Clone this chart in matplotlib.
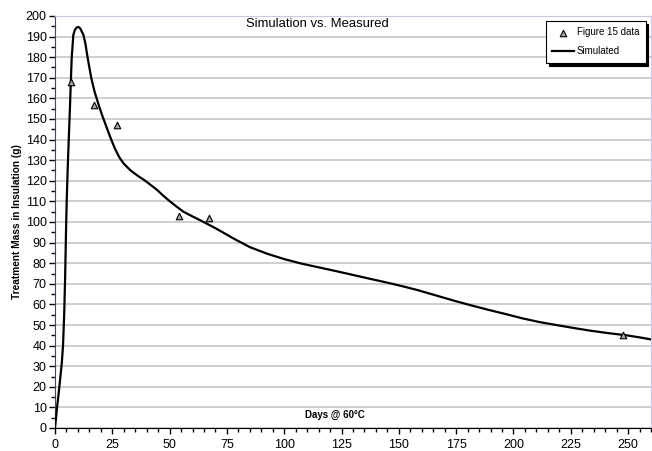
import numpy as np
import matplotlib
matplotlib.use("Agg")
import matplotlib.pyplot as plt
from matplotlib.ticker import MultipleLocator

plt.rcParams['font.family'] = ['Liberation Sans', 'DejaVu Sans']

# measured points (Figure 15 data)
meas_days = [7, 17, 27, 54, 67, 248]
meas_mass = [168, 157, 147, 103, 102, 45]

# simulated curve
sim_days = [0, 1, 2, 3, 3.5, 4, 4.4, 4.8, 5.1, 5.6, 6, 6.5, 6.9, 7.3, 8, 8.6, 9.3,
            10.2, 11, 11.8, 12.4, 13.2, 14.2, 15.8, 17.2, 19, 20.5, 22, 24, 26,
            28, 30, 33, 36, 39, 41.5, 44.6, 47, 49.6, 53, 56, 60, 63.6, 70, 78.2,
            85, 92.8, 100, 107.5, 115, 122, 130, 136.7, 144, 151.3, 158, 164.5,
            174.7, 182, 189.3, 197, 204, 211, 218.6, 226, 233.2, 241, 249.3, 255, 260]
sim_mass = [0, 11, 21, 32, 40, 55, 72, 95, 110, 128, 140, 155, 168, 180, 190.8, 193, 194.3,
            194.7, 194, 192.2, 190.8, 187, 180, 170, 163.5, 157, 152, 147.5, 141.5, 136,
            131.5, 128.3, 125, 122.5, 120.3, 118.2, 115.5, 113, 110.5, 107.5, 105, 102.7, 100.7, 97, 91.8,
            87.8, 84.5, 82, 79.8, 78, 76.3, 74.3, 72.6, 70.8, 68.9, 67, 64.9,
            61.6, 59.4, 57.3, 55.2, 53.2, 51.5, 50, 48.6, 47.3, 46.1, 45, 44, 43]

fig = plt.figure(figsize=(6.52, 4.51), dpi=100)
ax = fig.add_axes([55/652, 23/451, 596/652, 412/451])

ax.plot(sim_days, sim_mass, color='black', lw=1.6, label='Simulated', zorder=3,
        solid_joinstyle='round')
ax.scatter(meas_days, meas_mass, marker='^', s=22, facecolor='#a8a8a8',
           edgecolor='black', linewidths=0.8, label='Figure 15 data', zorder=4)

ax.set_xlim(0, 260)
ax.set_ylim(0, 200)
ax.xaxis.set_major_locator(MultipleLocator(25))
ax.xaxis.set_minor_locator(MultipleLocator(5))
ax.yaxis.set_major_locator(MultipleLocator(10))
ax.yaxis.set_minor_locator(MultipleLocator(5))
ax.tick_params(which='major', direction='out', length=4, width=1, labelsize=9, pad=2)
ax.tick_params(which='minor', direction='out', length=3, width=1)
ax.tick_params(axis='x', pad=4)

ax.grid(axis='y', which='major', color='#cfcfcf', lw=1.4)
ax.set_axisbelow(True)
for side in ['top', 'right']:
    ax.spines[side].set_color('#c8c8e8')
ax.spines['left'].set_color('#444455')
ax.spines['bottom'].set_color('black')

ax.set_ylabel('Treatment Mass in Insulation (g)', fontsize=7.3, fontweight='bold', labelpad=3)
ax.text(0.47, 0.02, 'Days @ 60°C', transform=ax.transAxes, fontsize=7,
        fontweight='bold', ha='center', va='bottom')
ax.text(0.44, 0.995, 'Simulation vs. Measured', transform=ax.transAxes, fontsize=9.4,
        ha='center', va='top')

handles, labels = ax.get_legend_handles_labels()
leg = ax.legend(handles[::-1], labels[::-1], loc='upper right', bbox_to_anchor=(0.999, 1.0),
                fontsize=7, frameon=True, fancybox=False, edgecolor='black',
                shadow={'color': 'black', 'alpha': 1}, handlelength=2.2,
                handletextpad=0.3, borderpad=0.65, labelspacing=0.95)
leg.get_frame().set_linewidth(0.8)

fig.savefig('out.png', dpi=100)
